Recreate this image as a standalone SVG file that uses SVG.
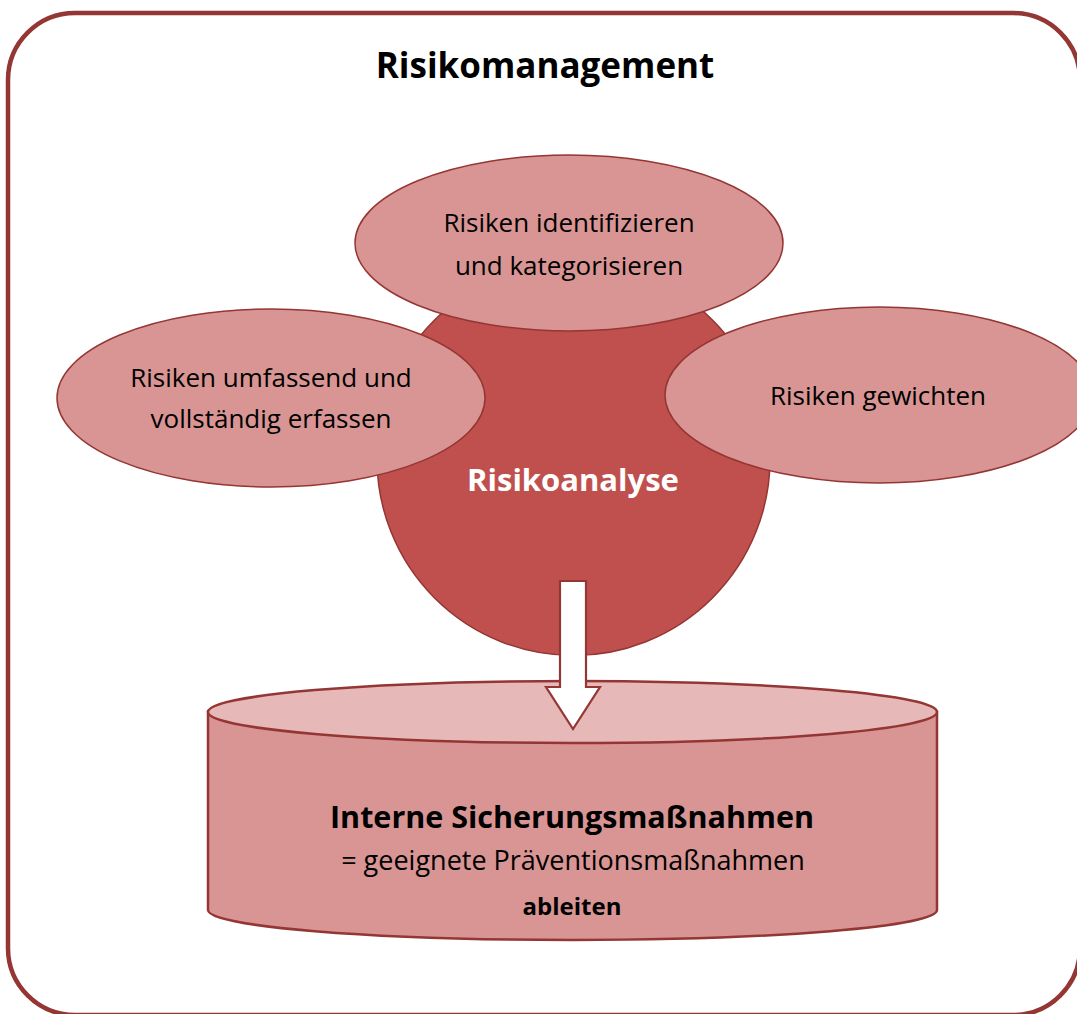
<svg xmlns="http://www.w3.org/2000/svg" width="1077" height="1014" viewBox="0 0 1077 1014">
<style>
.t{font-family:"Open Sans","Liberation Sans",sans-serif;fill:#000;text-anchor:middle}
.r{font-size:26px}
.b{font-weight:bold}
.pet{fill:#D99594;stroke:#943634;stroke-width:1.5}
</style>
<rect width="1077" height="1014" fill="#fff"/>
<g id="frame">
<rect x="8" y="13" width="1072" height="1002" rx="67" ry="67" fill="none" stroke="#943634" stroke-width="4.5"/>
<text class="t b" x="545" y="78" font-size="35">Risikomanagement</text>
</g>
<g id="risikoanalyse">
<circle cx="573.5" cy="459" r="196.5" fill="#C0504D" stroke="#943634" stroke-width="1.5"/>
</g>
<g id="top">
<ellipse class="pet" cx="569" cy="243" rx="214" ry="88"/>
<text class="t r" x="569" y="232">Risiken identifizieren</text>
<text class="t r" x="569" y="275">und kategorisieren</text>
</g>
<g id="left">
<ellipse class="pet" cx="271" cy="398" rx="214" ry="89"/>
<text class="t r" x="271" y="387">Risiken umfassend und</text>
<text class="t r" x="271" y="428">vollständig erfassen</text>
</g>
<g id="right">
<ellipse class="pet" cx="879" cy="395" rx="214" ry="88"/>
<text class="t r" x="878" y="405">Risiken gewichten</text>
</g>
<text class="t b" x="573" y="491" font-size="31" style="fill:#fff">Risikoanalyse</text>
<g id="massnahmen">
<path d="M208,712 L208,910 A364.5,30 0 0 0 937,910 L937,712 Z" fill="#D99594" stroke="#943634" stroke-width="2.5"/>
<ellipse cx="572.5" cy="712" rx="364.5" ry="31" fill="#E6B9B8" stroke="#943634" stroke-width="2.5"/>
<text class="t b" x="572" y="828" font-size="30.5">Interne Sicherungsmaßnahmen</text>
<text class="t" x="573" y="870" font-size="27">= geeignete Präventionsmaßnahmen</text>
<text class="t b" x="572" y="915" font-size="24">ableiten</text>
</g>
<g id="connectors">
<path d="M560,581 L586,581 L586,687 L600,687 L573,729 L546,687 L560,687 Z" fill="#fff" stroke="#943634" stroke-width="2.2" stroke-linejoin="miter"/>
</g>
</svg>
